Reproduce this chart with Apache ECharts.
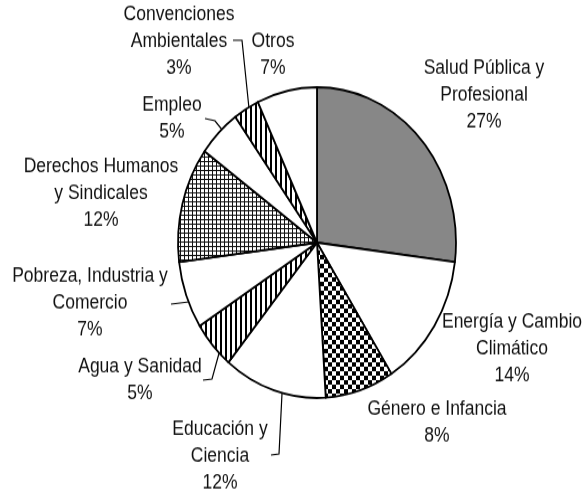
<!DOCTYPE html>
<html>
<head>
<meta charset="utf-8">
<script src="https://cdn.jsdelivr.net/npm/echarts@6/dist/echarts.min.js"></script>
<style>
html, body { margin: 0; padding: 0; background: #fff; }
#wrap { width: 583px; height: 491px; overflow: visible; }
#main { width: 583px; height: 439px; transform: scaleY(1.118); transform-origin: 0 0; }
</style>
</head>
<body>
<div id="wrap"><div id="main"></div></div>
<script>
// categorias y porcentajes (sentido horario desde las 12)
var categories = ['Salud Pública y\nProfesional', 'Energía y Cambio\nClimático', 'Género e Infancia',
    'Educación y\nCiencia', 'Agua y Sanidad', 'Pobreza, Industria y\nComercio',
    'Derechos Humanos\ny Sindicales', 'Empleo', 'Convenciones\nAmbientales', 'Otros'];
var values = [27, 14, 8, 12, 5, 7, 12, 5, 3, 7];
var fills = ['gray', 'white', 'checker', 'white', 'stripes', 'white', 'grid', 'white', 'stripes', 'white'];

// pie geometry
var cx = 317, cy = 217, r = 139;
// label centre offsets from pie centre
var labelOffsets = [[167, -132], [195, 95], [120, 161], [-97, 191], [-177, 123],
    [-227, 54], [-216, -44], [-145, -111], [-138, -180], [-44, -168]];
// leader lines (edge -> elbow -> label), relative to centre
var leaders = [null, null, null,
    [[-35, 135], [-38, 189], [-46, 190]],
    [[-98, 99], [-105, 122], [-114, 123]],
    [[-128, 53], [-137, 54], [-146, 55]],
    null,
    [[-95, -101], [-102, -109], [-112, -111]],
    [[-68, -120], [-75, -181], [-84, -181]],
    null];

function makePattern(kind) {
    var c = document.createElement('canvas');
    var g;
    if (kind === 'checker') {
        c.width = 8; c.height = 8;
        g = c.getContext('2d');
        g.fillStyle = '#000'; g.fillRect(0, 0, 8, 8);
        g.fillStyle = '#fff'; g.fillRect(0, 0, 4, 4); g.fillRect(4, 4, 4, 4);
    } else if (kind === 'grid') {
        c.width = 4; c.height = 4;
        g = c.getContext('2d');
        g.fillStyle = '#fff'; g.fillRect(0, 0, 4, 4);
        g.fillStyle = '#111'; g.fillRect(0, 0, 1, 4); g.fillRect(0, 0, 4, 1);
    } else {
        c.width = 5; c.height = 5;
        g = c.getContext('2d');
        g.fillStyle = '#fff'; g.fillRect(0, 0, 5, 5);
        g.fillStyle = '#000'; g.fillRect(0, 0, 2, 5);
    }
    return { image: c, repeat: 'repeat' };
}

function fillColor(kind) {
    if (kind === 'gray') return '#878787';
    if (kind === 'white') return '#ffffff';
    return makePattern(kind);
}

var pieData = [];
for (var i = 0; i < values.length; i++) {
    pieData.push({
        name: categories[i],
        value: values[i],
        itemStyle: { color: fillColor(fills[i]) },
        labelLine: { show: leaders[i] != null }
    });
}

var myChart = echarts.init(document.getElementById('main'));
var option = {
    backgroundColor: '#fff',
    animation: false,
    series: [{
        type: 'pie',
        center: [cx, cy],
        radius: r,
        startAngle: 90,
        clockwise: true,
        avoidLabelOverlap: false,
        itemStyle: { borderColor: '#000', borderWidth: 1.8 },
        emphasis: { disabled: true },
        label: {
            show: true,
            position: 'outside',
            color: '#111',
            fontFamily: 'Liberation Sans, Arial, sans-serif',
            fontSize: 17.5,
            lineHeight: 24,
            align: 'center',
            formatter: function (p) { return p.name + '\n' + p.value + '%'; }
        },
        labelLine: { show: true, lineStyle: { color: '#000', width: 1.2 } },
        labelLayout: function (p) {
            var i = p.dataIndex;
            var o = labelOffsets[i];
            var res = { x: cx + o[0], y: cy + o[1], align: 'center', verticalAlign: 'middle' };
            if (leaders[i]) {
                res.labelLinePoints = leaders[i].map(function (pt) { return [cx + pt[0], cy + pt[1]]; });
            }
            return res;
        },
        data: pieData
    }]
};
myChart.setOption(option);
</script>
</body>
</html>
